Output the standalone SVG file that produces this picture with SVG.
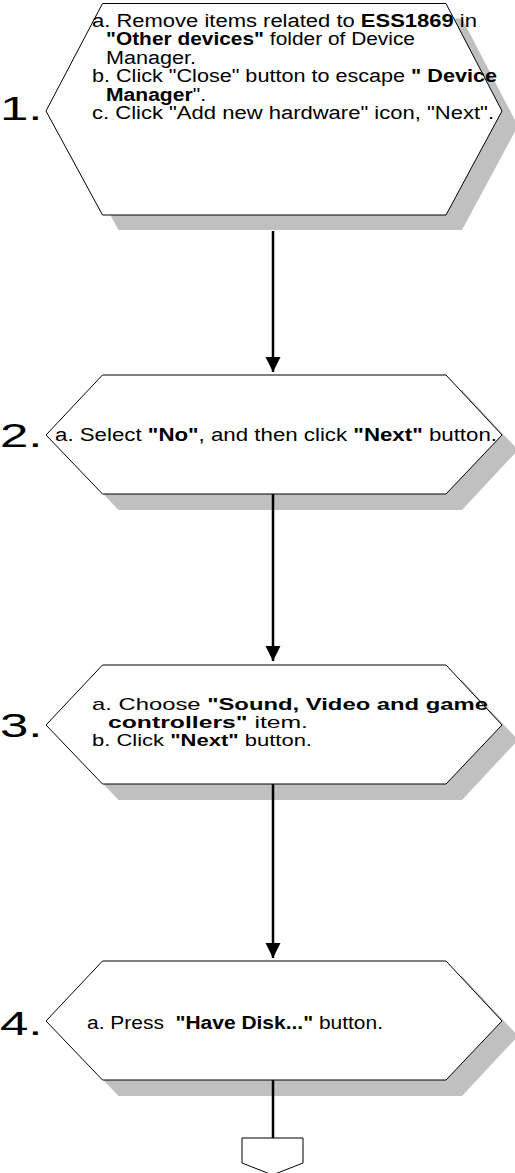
<svg xmlns="http://www.w3.org/2000/svg" width="515" height="1173" viewBox="0 0 515 1173">
<style>
.shadow{fill:#c0c0c0;stroke:none}
.hex{fill:#ffffff;stroke:#000000;stroke-width:1}
.t{font-family:"Liberation Sans",Arial,sans-serif;font-size:18px;fill:#000}
.s{font-size:17px}
.b{font-weight:bold}
.num{font-family:"Liberation Sans",Arial,sans-serif;font-size:34px;fill:#000}
.conn{stroke:#000;stroke-width:2.5;fill:none}
</style>
<defs>
<marker id="arr" markerUnits="userSpaceOnUse" markerWidth="16" markerHeight="16" refX="15" refY="8" orient="auto">
<path d="M0,0.5 L15,8 L0,15.5 Z" fill="#000"/>
</marker>
</defs>
<rect width="515" height="1173" fill="#ffffff"/>

<g id="node1">
<polygon class="shadow" points="118.5,18.5 462,18.5 518,126 462,230 118.5,230 62,126"/>
<polygon class="hex" points="102.5,3.5 446,3.5 502,111 446,215 102.5,215 46,111"/>
<text class="num" transform="translate(0,120) scale(1.5,1)">1.</text>
<text class="t" x="92" y="26.5" textLength="385" lengthAdjust="spacingAndGlyphs">a. Remove items related to <tspan class="b">ESS1869</tspan> in</text>
<text class="t" x="106" y="45" textLength="309" lengthAdjust="spacingAndGlyphs"><tspan class="b">"Other devices"</tspan> folder of Device</text>
<text class="t" x="106" y="63.5" textLength="90" lengthAdjust="spacingAndGlyphs">Manager.</text>
<text class="t" x="92" y="82" textLength="405" lengthAdjust="spacingAndGlyphs">b. Click "Close" button to escape <tspan class="b">" Device</tspan></text>
<text class="t" x="106" y="100.5" textLength="100" lengthAdjust="spacingAndGlyphs"><tspan class="b">Manager</tspan>".</text>
<text class="t" x="92" y="119" textLength="402" lengthAdjust="spacingAndGlyphs">c. Click "Add new hardware" icon, "Next".</text>
</g>

<g id="node2">
<polygon class="shadow" points="118.5,390 462,390 518,450 462,510 118.5,510 62,450"/>
<polygon class="hex" points="102.5,375 446,375 502,435 446,494 102.5,494 46,435"/>
<text class="num" transform="translate(0,447) scale(1.5,1)">2.</text>
<text class="t" x="55" y="441" textLength="442" lengthAdjust="spacingAndGlyphs">a. Select <tspan class="b">"No"</tspan>, and then click <tspan class="b">"Next"</tspan> button.</text>
</g>

<g id="node3">
<polygon class="shadow" points="118.5,680 462,680 518,740 462,800 118.5,800 62,740"/>
<polygon class="hex" points="102.5,665 446,665 502,725 446,784 102.5,784 46,725"/>
<text class="num" transform="translate(0,737) scale(1.5,1)">3.</text>
<text class="t s" x="92" y="710" textLength="396" lengthAdjust="spacingAndGlyphs">a. Choose <tspan class="b">"Sound, Video and game</tspan></text>
<text class="t s" x="108" y="728" textLength="200" lengthAdjust="spacingAndGlyphs"><tspan class="b">controllers"</tspan> item.</text>
<text class="t s" x="92" y="746" textLength="220" lengthAdjust="spacingAndGlyphs">b. Click <tspan class="b">"Next"</tspan> button.</text>
</g>

<g id="node4">
<polygon class="shadow" points="118.5,976 462,976 518,1036 462,1096 118.5,1096 62,1036"/>
<polygon class="hex" points="102.5,961 446,961 502,1021 446,1080 102.5,1080 46,1021"/>
<text class="num" transform="translate(0,1035) scale(1.5,1)">4.</text>
<text class="t" x="87" y="1029" textLength="296" lengthAdjust="spacingAndGlyphs" xml:space="preserve">a. Press  <tspan class="b">"Have Disk..."</tspan> button.</text>
</g>

<g id="offpage">
<polygon class="hex" points="242,1138 303,1138 303,1163 272.5,1175 242,1163"/>
</g>

<g id="connectors">
<line class="conn" x1="273" y1="231" x2="273" y2="372" marker-end="url(#arr)"/>
<line class="conn" x1="273" y1="494" x2="273" y2="661" marker-end="url(#arr)"/>
<line class="conn" x1="273" y1="784" x2="273" y2="958" marker-end="url(#arr)"/>
<line class="conn" x1="273" y1="1080" x2="273" y2="1138"/>
</g>
</svg>
